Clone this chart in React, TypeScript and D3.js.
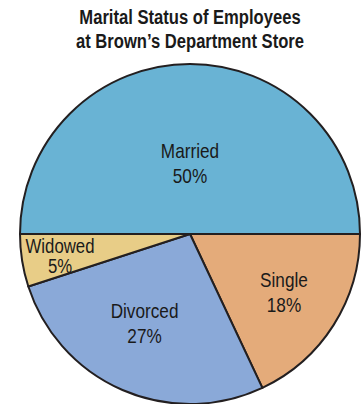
import * as d3 from "d3";
import { useEffect, useRef } from "react";

// data
const categories = ["Single", "Divorced", "Widowed", "Married"];
const percents = [18, 27, 5, 50];
const colors = ["#e4ab7a", "#8aa9d8", "#e8cd87", "#69b3d4"];
const titleLines = ["Marital Status of Employees", "at Brown\u2019s Department Store"];

const W = 363;
const H = 404;

export default function App() {
  const ref = useRef<SVGSVGElement>(null);

  useEffect(() => {
    const svg = d3.select(ref.current);
    svg.selectAll("*").remove();

    const cx = 190, cy = 234, r = 170;
    // no narrow font installed, so squeeze Liberation Sans horizontally
    const font = "'Liberation Sans', Arial, sans-serif";

    // title
    svg
      .append("g")
      .selectAll("g")
      .data(titleLines)
      .enter()
      .append("g")
      .attr("transform", (d, i) => `translate(190,${24 + i * 24}) scale(0.81,1)`)
      .append("text")
      .attr("text-anchor", "middle")
      .attr("font-family", font)
      .attr("font-weight", "bold")
      .attr("font-size", 20.5)
      .attr("fill", "#1a1a1a")
      .text((d) => d);

    const pie = d3
      .pie<number>()
      .sort(null)
      .startAngle(Math.PI / 2)
      .endAngle(Math.PI / 2 + 2 * Math.PI);
    const arcs = pie(percents);
    const arc = d3.arc<d3.PieArcDatum<number>>().innerRadius(0).outerRadius(r);

    const g = svg.append("g").attr("transform", `translate(${cx},${cy})`);

    g.selectAll("path")
      .data(arcs)
      .enter()
      .append("path")
      .attr("d", arc)
      .attr("fill", (d, i) => colors[i])
      .attr("stroke", "#231f20")
      .attr("stroke-width", 2)
      .attr("stroke-linejoin", "round");

    // label placement: fraction of radius, angle nudge (deg), line gap, size
    const labelFrac = [0.674, 0.628, 0.783, 0.374];
    const labelNudge = [2.5, 1.8, -3.4, 0];
    const lineGap = [25, 25, 20, 25];
    const labelSize = [20, 20, 19.5, 20];

    arcs.forEach((d, i) => {
      const a = (d.startAngle + d.endAngle) / 2 + (labelNudge[i] * Math.PI) / 180;
      const lr = r * labelFrac[i];
      const x = Math.sin(a) * lr;
      const y = -Math.cos(a) * lr;
      const lg = g
        .append("g")
        .attr("transform", `translate(${x},${y}) scale(0.86,1)`);
      const t = lg
        .append("text")
        .attr("text-anchor", "middle")
        .attr("font-family", font)
        .attr("font-size", labelSize[i])
        .attr("fill", "#1a1a1a");
      t.append("tspan")
        .attr("x", 0)
        .attr("y", -lineGap[i] / 2)
        .text(categories[i]);
      t.append("tspan")
        .attr("x", 0)
        .attr("y", lineGap[i] / 2)
        .text(`${percents[i]}%`);
    });
  }, []);

  return (
    <svg
      ref={ref}
      width={W}
      height={H}
      style={{ position: "absolute", left: 0, top: 0, background: "#fff" }}
    />
  );
}
